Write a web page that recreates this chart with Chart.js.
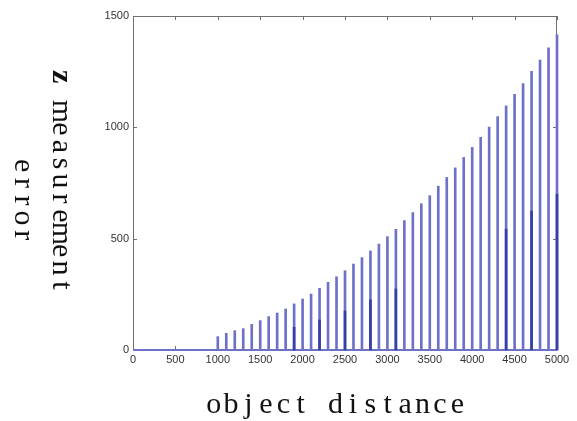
<!DOCTYPE html>
<html>
<head>
<meta charset="utf-8">
<script src="https://cdn.jsdelivr.net/npm/chart.js@4/dist/chart.umd.min.js"></script>
<style>
  html, body { margin: 0; padding: 0; background: #fff; }
  #wrap { width: 577px; height: 421px; }
</style>
</head>
<body>
<div id="wrap"><canvas id="chart" width="577" height="421"></canvas></div>
<script>
"use strict";

// object distance (x) for every stem
var distances = [1000, 1100, 1200, 1300, 1400, 1500, 1600, 1700, 1800, 1900,
                 2000, 2100, 2200, 2300, 2400, 2500, 2600, 2700, 2800, 2900,
                 3000, 3100, 3200, 3300, 3400, 3500, 3600, 3700, 3800, 3900,
                 4000, 4100, 4200, 4300, 4400, 4500, 4600, 4700, 4800, 4900,
                 5000];

// z measurement error at each distance
var errors = [60, 75, 87, 96, 115, 132, 150, 166, 184, 207,
              229, 251, 277, 304, 329, 356, 386, 415, 445, 476,
              509, 542, 581, 617, 657, 693, 736, 775, 818, 865,
              910, 955, 1001, 1048, 1096, 1148, 1197, 1251, 1302, 1357,
              1415];

// shorter dark stems
var sampleDistances = [1900, 2200, 2500, 2800, 3100, 4400, 4700, 5000];
var sampleErrors = [102, 135, 175, 225, 274, 543, 624, 700];

// stem baseline
var baselineX = [0, 5000];

var xTickStep = 500;
var yTickStep = 500;

var lightBlue = "#6d72c8";
var darkBlue = "#3440a6";
var axisGray = "#707070";
var tickFont = { family: "Liberation Sans", size: 11 };
var titleFont = "30px 'Liberation Serif'";
var cell = 17.4;

// fixed-pitch text: every character gets the same cell width
function drawMono(ctx, text, x, y) {
    ctx.textAlign = "center";
    for (var i = 0; i < text.length; i++) {
        ctx.fillText(text[i], x + cell * (i + 0.5), y);
    }
}

// box round the plot with inward tick marks
var boxAxes = {
    id: "boxAxes",
    beforeDatasetsDraw: function (chart) {
        var ctx = chart.ctx;
        var a = chart.chartArea;
        var xs = chart.scales.x;
        var ys = chart.scales.y;
        ctx.save();
        ctx.strokeStyle = axisGray;
        ctx.lineWidth = 1;
        ctx.strokeRect(a.left + 0.5, a.top + 0.5, a.right - a.left - 1, a.bottom - a.top);
        ctx.beginPath();
        xs.ticks.forEach(function (t) {
            var px = Math.round(xs.getPixelForValue(t.value)) + 0.5;
            ctx.moveTo(px, a.top);
            ctx.lineTo(px, a.top + 4);
            ctx.moveTo(px, a.bottom);
            ctx.lineTo(px, a.bottom - 4);
        });
        ys.ticks.forEach(function (t) {
            var py = Math.round(ys.getPixelForValue(t.value)) + 0.5;
            ctx.moveTo(a.left, py);
            ctx.lineTo(a.left + 4, py);
            ctx.moveTo(a.right, py);
            ctx.lineTo(a.right - 4, py);
        });
        ctx.stroke();
        ctx.restore();
    },
    afterDraw: function (chart) {
        var ctx = chart.ctx;
        ctx.save();
        ctx.fillStyle = "#111";
        ctx.textBaseline = "alphabetic";

        // x title
        ctx.font = titleFont;
        drawMono(ctx, "object distance", 205, 413);

        // y title, turned clockwise, two lines
        ctx.save();
        ctx.translate(53, 68);
        ctx.rotate(Math.PI / 2);
        ctx.font = "bold 30px 'Liberation Serif'";
        drawMono(ctx, "z", 0, 0);
        ctx.font = titleFont;
        drawMono(ctx, " measurement", cell, 0);
        ctx.restore();

        ctx.save();
        ctx.translate(15, 157);
        ctx.rotate(Math.PI / 2);
        ctx.font = titleFont;
        drawMono(ctx, "error", 0, 0);
        ctx.restore();

        ctx.restore();
    }
};

var ctx = document.getElementById("chart").getContext("2d");

var myChart = new Chart(ctx, {
    type: "bar",
    data: {
        datasets: [
            {
                type: "line",
                data: baselineX.map(function (x) { return { x: x, y: 0 }; }),
                borderColor: lightBlue,
                borderWidth: 2,
                pointRadius: 0,
                clip: false,
                order: 3
            },
            {
                label: "error",
                data: distances.map(function (d, i) { return { x: d, y: errors[i] }; }),
                backgroundColor: lightBlue,
                barThickness: 2,
                grouped: false,
                clip: false,
                order: 2
            },
            {
                label: "sample",
                data: sampleDistances.map(function (d, i) { return { x: d, y: sampleErrors[i] }; }),
                backgroundColor: darkBlue,
                barThickness: 2,
                grouped: false,
                clip: false,
                order: 1
            }
        ]
    },
    options: {
        responsive: false,
        animation: false,
        layout: { padding: { top: 16, right: 20, left: 0, bottom: 0 } },
        plugins: {
            legend: { display: false },
            tooltip: { enabled: false }
        },
        scales: {
            x: {
                type: "linear",
                min: 0,
                max: 5000,
                offset: false,
                grid: { display: false, drawTicks: false },
                border: { display: false },
                ticks: {
                    stepSize: xTickStep,
                    autoSkip: false,
                    maxRotation: 0,
                    padding: 3,
                    color: "#333",
                    font: tickFont,
                    callback: function (v) { return String(v); }
                },
                afterFit: function (s) { s.height = 71; }
            },
            y: {
                min: 0,
                max: 1500,
                grid: { display: false, drawTicks: false },
                border: { display: false },
                ticks: {
                    stepSize: yTickStep,
                    padding: 4,
                    color: "#333",
                    font: tickFont,
                    callback: function (v) { return String(v); }
                },
                afterFit: function (s) { s.width = 133; }
            }
        }
    },
    plugins: [boxAxes]
});
</script>
</body>
</html>
